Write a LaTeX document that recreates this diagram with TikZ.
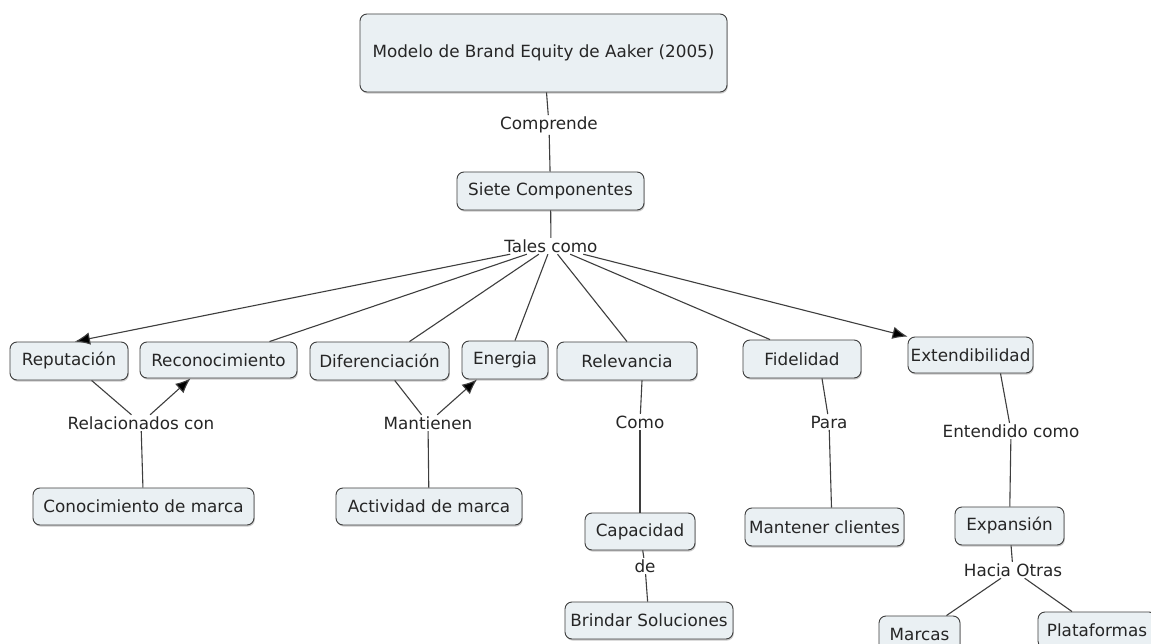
\documentclass[tikz,border=0pt]{standalone}
\usepackage{fontspec}
\setmainfont{DejaVu Sans}
\usetikzlibrary{arrows.meta,shadows}
\definecolor{cfill}{HTML}{EAF0F3}
\definecolor{cline}{HTML}{3E3E3E}
\definecolor{ctext}{HTML}{262626}
\newcommand{\cmfont}{\fontsize{16.8}{19}\selectfont}
\tikzset{
  concept/.style={draw=cline, line width=0.9pt, fill=cfill, rounded corners=7pt,
    minimum height=38pt, inner sep=2pt, text=ctext, font=\cmfont,
    drop shadow={shadow xshift=0.8pt, shadow yshift=-1.6pt, fill=black!35, opacity=0.6}},
  linkword/.style={inner sep=1.5pt, text=ctext, font=\cmfont},
  link/.style={draw=cline, line width=1.1pt},
  arrowlink/.style={link, -{Latex[length=15pt,width=12.5pt,fill=black]}}
}
\begin{document}
\begin{tikzpicture}[x=1pt,y=-1pt]
\fill[white] (0,0) rectangle (1151,644);
\path[use as bounding box] (0,0) rectangle (1151,644);

% concepts
\node[concept, minimum width=367pt, minimum height=78pt] (title) at (543.5,53) {Modelo de Brand Equity de Aaker (2005)};
\node[concept, minimum width=187pt] (siete) at (550.5,191) {Siete Componentes};
\node[concept, minimum width=118pt] (rep) at (69,361) {Reputación};
\node[concept, minimum width=157pt, minimum height=36pt] (rec) at (218.5,360) {Reconocimiento};
\node[concept, minimum width=139pt] (dif) at (379.5,361) {Diferenciación};
\node[concept, minimum width=86pt] (ene) at (505,360) {Energia};
\node[concept, minimum width=140pt] (rel) at (627,361) {Relevancia};
\node[concept, minimum width=118pt] (fid) at (802,359) {Fidelidad};
\node[concept, minimum width=125pt, minimum height=36pt] (ext) at (970.5,355) {Extendibilidad};
\node[concept, minimum width=221pt, minimum height=37pt] (con) at (143.5,506.5) {Conocimiento de marca};
\node[concept, minimum width=186pt, minimum height=37pt] (act) at (429,506.5) {Actividad de marca};
\node[concept, minimum width=110pt, minimum height=37pt] (cap) at (640,531.5) {Capacidad};
\node[concept, minimum width=168pt, minimum height=37pt] (bri) at (649,620.5) {Brindar Soluciones};
\node[concept, minimum width=159pt] (man) at (824.5,527) {Mantener clientes};
\node[concept, minimum width=109pt] (exp) at (1009.5,526) {Expansión};
\node[concept, minimum width=81pt, minimum height=36pt] (mar) at (919.5,634) {Marcas};
\node[concept, minimum width=118pt, minimum height=36pt] (pla) at (1097,630) {Plataformas};

% linking words
\node[linkword] (comprende) at (549,125) {Comprende};
\node[linkword] (tales) at (551,246) {Tales como};
\node[linkword] (relac) at (141,423) {Relacionados con};
\node[linkword] (mant) at (428,423) {Mantienen};
\node[linkword] (como) at (640,422) {Como};
\node[linkword] (para) at (829,422) {Para};
\node[linkword] (entend) at (1011,431) {Entendido como};
\node[linkword] (de) at (645,566) {de};
\node[linkword] (hacia) at (1013,570) {Hacia Otras};

% connectors
\draw[link] (title) -- (comprende);
\draw[link] (comprende) -- (siete);
\draw[link] (siete) -- (tales);

\draw[arrowlink] (tales) -- ([xshift=6pt]rep.north);
\draw[link] (tales) -- ([xshift=51pt]rec.north);
\draw[link] (tales) -- ([xshift=30pt]dif.north);
\draw[link] (tales) -- ([xshift=10pt]ene.north);
\draw[link] (tales) -- (rel.north);
\draw[link] (tales) -- ([xshift=-32pt]fid.north);
\draw[arrowlink] (tales) -- (ext.north west);

\draw[link] (rep) -- (relac);
\draw[arrowlink] (relac) -- ([xshift=-28pt]rec.south);
\draw[link] (con) -- (relac);

\draw[link] (dif) -- (mant);
\draw[arrowlink] (mant) -- ([xshift=-28pt]ene.south);
\draw[link] (act) -- (mant);

\draw[link] ([xshift=15pt]rel.south) -- (como);
\draw[link] (como) -- (cap);
\draw[link] (cap) -- (de);
\draw[link] (de) -- (bri);

\draw[link] ([xshift=20pt]fid.south) -- (para);
\draw[link] (para) -- ([xshift=7pt]man.north);

\draw[link] ([xshift=30pt]ext.south) -- (entend);
\draw[link] (entend) -- (exp);
\draw[link] (exp) -- (hacia);
\draw[link] (hacia) -- (mar);
\draw[link] (hacia) -- ([xshift=-25pt]pla.north);
\end{tikzpicture}
\end{document}
